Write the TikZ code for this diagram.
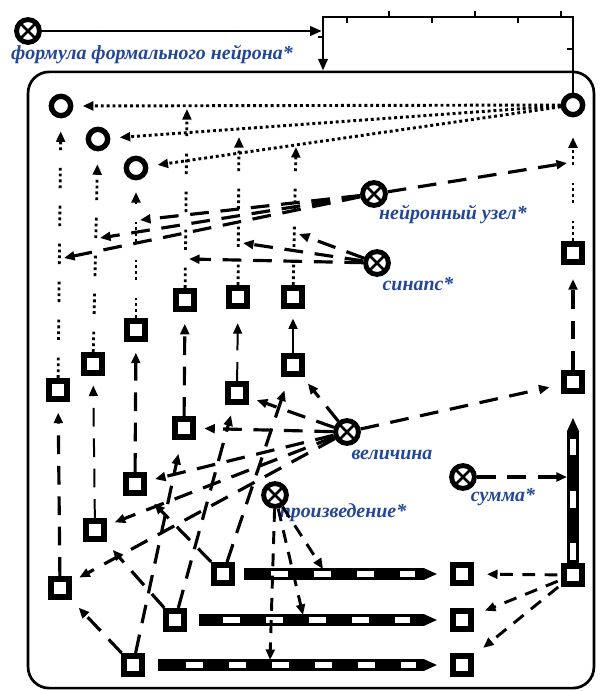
\documentclass[tikz,border=0pt]{standalone}
\usepackage{fontspec}
\setmainfont{Liberation Serif}
\usetikzlibrary{arrows.meta}
\definecolor{lblblue}{RGB}{35,70,150}

\begin{document}
\begin{tikzpicture}[x=0.03cm, y=-0.03cm,
    sq/.style={draw, line width=4.8pt, minimum size=15.8pt, inner sep=0pt},
    outc/.style={circle, draw, line width=4.6pt, minimum size=16.5pt, inner sep=0pt},
    gate/.style={circle, draw, line width=4.2pt, minimum size=19.5pt, inner sep=0pt,
        path picture={\draw[line width=2.2pt] (path picture bounding box.north west) -- (path picture bounding box.south east)
            (path picture bounding box.north east) -- (path picture bounding box.south west);}},
    lbl/.style={text=lblblue, font=\fontsize{17}{19}\selectfont\bfseries\itshape, inner sep=0pt},
    arrowtip/.style={-{Triangle[length=9pt, width=7.5pt]}},
    dotline/.style={arrowtip, line width=2.5pt, dash pattern=on 2.5pt off 2.5pt},
    dotgap/.style={arrowtip, line width=2.4pt, dash pattern=on 2.4pt off 2.6pt on 2.4pt off 2.6pt on 2.4pt off 2.6pt on 2.4pt off 15pt},
    dashline/.style={arrowtip, line width=2.7pt, dash pattern=on 16pt off 10pt},
    thindash/.style={arrowtip, line width=1.7pt, dash pattern=on 16pt off 10pt},
    shortdash/.style={arrowtip, line width=2.5pt, dash pattern=on 11pt off 8pt},
    bar/.style={line width=9.5pt, -{Triangle[length=12pt, width=9.5pt]}},
    win/.style={white, line width=4.5pt, dash pattern=on 14.5pt off 22.2pt},
    loopline/.style={line width=2.3pt},
]
\useasboundingbox (0,0) rectangle (601,691);

% Draw the big frame
\node[draw, line width=2.3pt, rounded corners=18pt, minimum width=483pt, minimum height=526pt, inner sep=0pt] (net) at (311,380) {};

% Draw the output circles
\node[outc] (o1) at (61,106) {};
\node[outc] (o2) at (98,139) {};
\node[outc] (o3) at (136,168) {};
\node[outc] (o4) at (573,105) {};

% Draw the squares
\node[sq] (a1) at (60,588) {};
\node[sq] (a2) at (58,390) {};
\node[sq] (b1) at (95,530) {};
\node[sq] (b2) at (93,364) {};
\node[sq] (c1) at (135,484) {};
\node[sq] (c2) at (136,330) {};
\node[sq] (d1) at (184,428) {};
\node[sq] (d2) at (185,300) {};
\node[sq] (e1) at (237,393) {};
\node[sq] (e2) at (238,297) {};
\node[sq] (f1) at (293,365) {};
\node[sq] (f2) at (293,297) {};
\node[sq] (r0) at (573,575) {};
\node[sq] (r1) at (573,382) {};
\node[sq] (r2) at (573,253) {};
\node[sq] (p1) at (223,574) {};
\node[sq] (p2) at (175,620) {};
\node[sq] (p3) at (133,665) {};
\node[sq] (t1) at (462,574) {};
\node[sq] (t2) at (462,620) {};
\node[sq] (t3) at (462,665) {};

% Draw the gates
\node[gate] (gf) at (28,31) {};
\node[gate] (gn) at (374,194) {};
\node[gate] (gs) at (377,263) {};
\node[gate] (gv) at (347,432) {};
\node[gate] (gm) at (463,477) {};
\node[gate] (gp) at (275,495) {};

% Labels
\node[lbl] (lf) at (152,54) {формула формального нейрона*};
\node[lbl] (ln) at (453,214) {нейронный узел*};
\node[lbl] (ls) at (418,284) {синапс*};
\node[lbl] (lv) at (392,455) {величина};
\node[lbl] (lm) at (503,497) {сумма*};
\node[lbl] (lp) at (343,513) {произведение*};

% The loop on top
\coordinate (fl) at (323,17);
\draw[loopline, -{Triangle[length=10pt, width=8pt]}] (o4.north) -- (o4.north |- fl) -- (fl) -- (fl |- net.north);
\draw[loopline, -{Triangle[length=10pt, width=8pt]}, shorten >=1pt] (gf) -- (gf -| fl);
\draw[loopline] (389,17) -- (389,11);
\draw[loopline] (475,17) -- (475,11);
\draw[loopline] (561,17) -- (561,11);
\draw[loopline] (347,17) -- (347,23);
\draw[loopline] (432,17) -- (432,23);
\draw[loopline] (518,17) -- (518,23);
\draw[loopline] (573,49) -- (567,49);
\draw[loopline] (323,37) -- (318,37);

% Dotted lines to the circles
\draw[dotline, shorten >=8pt] (o4) -- (o1);
\draw[dotline, shorten >=8pt] (o4) -- (o2);
\draw[dotline, shorten >=8pt] (o4) -- (o3);

\coordinate (h1) at (187,109);
\coordinate (h2) at (239,137);
\coordinate (h3) at (296,147);

% Columns
\draw[dashline, shorten >=9pt] (a1) -- (a2);
\draw[dotgap, shorten >=11pt] (a2) -- (o1);
\draw[thindash, shorten >=8pt] (b1) -- (b2);
\draw[dotgap, shorten >=11pt] (b2) -- (o2);
\draw[dashline, shorten >=9pt] (c1) -- (c2);
\draw[dotgap, shorten >=10pt] (c2) -- (o3);
\draw[dashline, shorten >=10pt] (d1) -- (d2);
\draw[dotgap] (d2) -- (h1);
\draw[thindash, shorten >=12pt] (e1) -- (e2);
\draw[dotgap] (e2) -- (h2);
\draw[arrowtip, line width=2.2pt, shorten >=8pt] (f1) -- (f2);
\draw[dotgap] (f2) -- (h3);
\draw[dashline, shorten >=12pt] (r1) -- (r2);
\draw[dotgap, shorten >=17pt] (r2) -- (o4);

% Draw the bars
\draw[bar, shorten <=7.3pt, shorten >=10.7pt] (p1.east) -- (p1.east -| t1.west);
\draw[win, shorten <=30.3pt, shorten >=29.5pt] (p1.east) -- (p1.east -| t1.west);
\draw[bar, shorten <=9.8pt, shorten >=10.7pt] (p2.east) -- (p2.east -| t2.west);
\draw[win, shorten <=30.3pt, shorten >=33.7pt] (p2.east) -- (p2.east -| t2.west);
\draw[bar, shorten <=10.7pt, shorten >=10.7pt] (p3.east) -- (p3.east -| t3.west);
\draw[win, shorten <=34.6pt, shorten >=28.6pt] (p3.east) -- (p3.east -| t3.west);
\draw[bar, shorten >=20pt] (r0.north) -- (r1.south);
\draw[win, dash pattern=on 14.5pt off 30.7pt, shorten <=2.1pt, shorten >=38pt] (r0.north) -- (r1.south);

% From the right square to the targets
\draw[shortdash, shorten <=3pt, shorten >=11pt] (r0) -- (t1);
\draw[shortdash, shorten <=3pt, shorten >=10pt] (r0) -- (t2);
\draw[shortdash, shorten <=3pt, shorten >=10pt] (r0) -- (t3);

% Neuron node
\coordinate (n0) at (567,163);
\coordinate (n1) at (140,220);
\coordinate (n2) at (100,238);
\coordinate (n3) at (64,258);
\draw[dashline] (gn) -- (n0);
\draw[dashline] (gn) -- (n1);
\draw[dashline] (gn) -- (n2);
\draw[dashline] (gn) -- (n3);

% Synapse
\coordinate (s1) at (299,234);
\coordinate (s2) at (243,243);
\coordinate (s3) at (189,259);
\draw[dashline] (gs) -- (s1);
\draw[dashline] (gs) -- (s2);
\draw[dashline] (gs) -- (s3);

% Value
\draw[dashline, shorten >=7pt] (gv) -- (a1);
\draw[dashline, shorten >=7pt] (gv) -- (b1);
\draw[dashline, shorten >=7pt] (gv) -- (c1);
\draw[dashline, shorten >=7pt] (gv) -- (d1);
\draw[dashline, shorten >=7pt] (gv) -- (e1);
\draw[dashline, shorten >=7pt] (gv) -- (f1);
\draw[dashline, shorten >=10pt] (gv) -- (r1);

% Sum
\coordinate (m1) at (567,477);
\draw[dashline] (gm) -- (m1);

% Product
\coordinate (q1) at (323,569);
\coordinate (q2) at (303,615);
\coordinate (q3) at (270,660);
\draw[shortdash] (gp) -- (q1);
\draw[shortdash] (gp) -- (q2);
\draw[shortdash] (gp) -- (q3);

% Bottom squares upward
\draw[dashline, shorten >=9pt] (p1) -- (c1);
\draw[dashline, shorten >=12pt] (p1) -- (f1);
\draw[dashline, shorten >=9pt] (p2) -- (b1);
\draw[dashline, shorten >=9pt] (p2) -- (e1);
\draw[dashline, shorten >=9pt] (p3) -- (a1);
\draw[dashline, shorten >=12pt] (p3) -- (d1);
\end{tikzpicture}
\end{document}
